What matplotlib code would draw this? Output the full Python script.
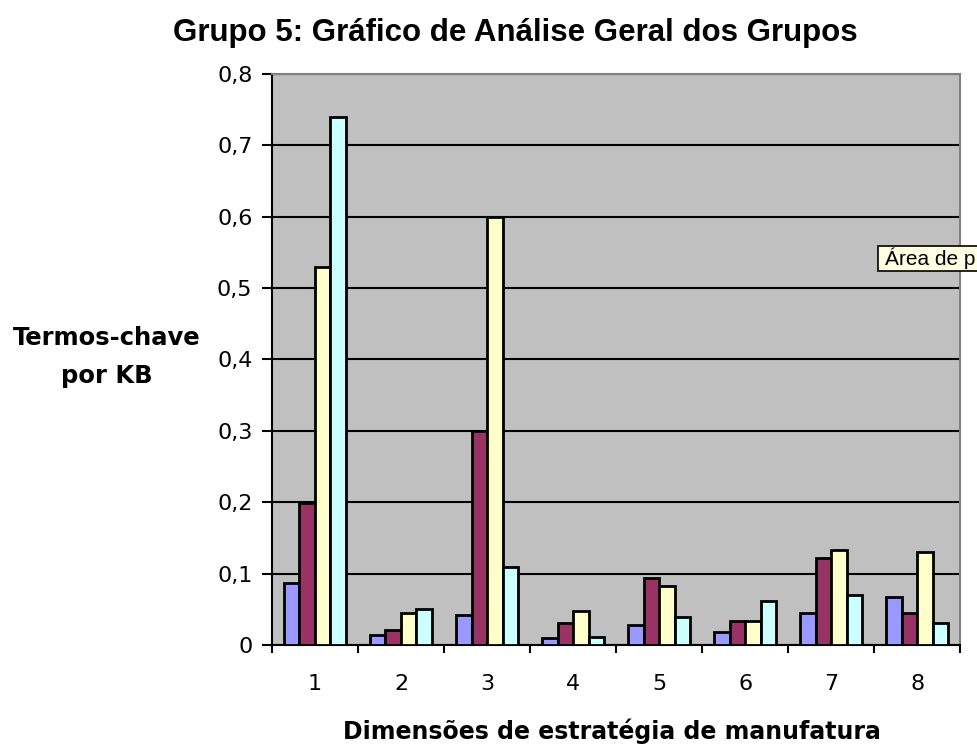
import matplotlib.pyplot as plt
import matplotlib.patches as mpatches
import numpy as np

# values
groups = ['1', '2', '3', '4', '5', '6', '7', '8']
serie_a = [0.087, 0.014, 0.042, 0.010, 0.028, 0.018, 0.045, 0.067]
serie_b = [0.199, 0.021, 0.300, 0.031, 0.094, 0.034, 0.122, 0.045]
serie_c = [0.530, 0.045, 0.600, 0.048, 0.083, 0.034, 0.133, 0.130]
serie_d = [0.740, 0.050, 0.110, 0.012, 0.039, 0.062, 0.070, 0.031]
ytick_vals = [0, 0.1, 0.2, 0.3, 0.4, 0.5, 0.6, 0.7, 0.8]
ytick_labels = ['0', '0,1', '0,2', '0,3', '0,4', '0,5', '0,6', '0,7', '0,8']

colors = ['#9999FF', '#993366', '#FFFFCC', '#CCFFFF']

fig = plt.figure(figsize=(9.78, 7.45), dpi=100)
ax = fig.add_axes([0.278, 0.134, 0.704, 0.767])
ax.set_facecolor('#C0C0C0')

x = np.arange(len(groups))
w = 0.18
for i, vals in enumerate([serie_a, serie_b, serie_c, serie_d]):
    ax.bar(x + (i - 1.5) * w, vals, width=w, color=colors[i],
           edgecolor='black', linewidth=2, zorder=3)

ax.set_xlim(-0.5, 7.5)
ax.set_ylim(0, 0.8)
ax.set_yticks(ytick_vals)
ax.set_yticklabels(ytick_labels, fontsize=16)
ax.yaxis.grid(True, color='black', linewidth=1.5, zorder=1)
ax.set_axisbelow(True)

# category labels centered, tick marks between groups
ax.set_xticks(x)
ax.set_xticklabels(groups, fontsize=16)
ax.tick_params(axis='x', length=0, pad=21)
ax.set_xticks(np.arange(-0.5, 8, 1), minor=True)
ax.tick_params(axis='x', which='minor', length=6, width=1.5, direction='out')
ax.tick_params(axis='y', length=7, width=1.5, direction='out', pad=7)

ax.spines['left'].set_linewidth(1.5)
ax.spines['bottom'].set_linewidth(1.5)
ax.spines['top'].set_color('#808080')
ax.spines['right'].set_color('#808080')
ax.spines['top'].set_linewidth(1.5)
ax.spines['right'].set_linewidth(1.5)

fig.text(0.527, 0.956, 'Grupo 5: Gráfico de Análise Geral dos Grupos',
         ha='center', va='center', fontsize=22.5, fontweight='bold',
         family='Liberation Sans')
fig.text(0.109, 0.521, 'Termos-chave\npor KB', ha='center', va='center',
         fontsize=17.5, fontweight='bold', linespacing=1.75)
fig.text(0.626, 0.019, 'Dimensões de estratégia de manufatura',
         ha='center', va='center', fontsize=17, fontweight='bold')

# excel tooltip left over in the screenshot, cut by the right edge
fig.patches.append(mpatches.Rectangle((878 / 978, 1 - 271 / 745),
                                      0.2, 25 / 745, transform=fig.transFigure,
                                      facecolor='#FFFFE1', edgecolor='black',
                                      linewidth=1.2))
fig.text(885 / 978, 1 - 258 / 745, 'Área de p', ha='left', va='center',
         fontsize=15, family='Liberation Sans')

fig.savefig('out.png', dpi=100)
